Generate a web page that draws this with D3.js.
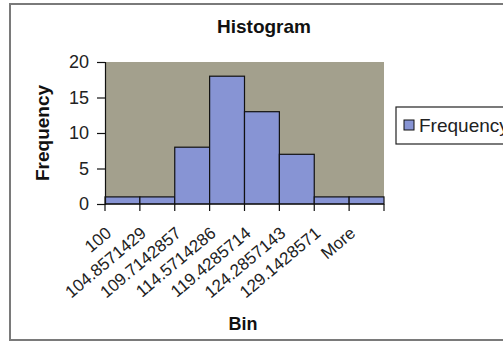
<!DOCTYPE html>
<html>
<head>
<meta charset="utf-8">
<script src="https://cdn.jsdelivr.net/npm/d3@7"></script>
<style>
  body { margin: 0; background: #fff; overflow: hidden; }
  text { font-family: "Liberation Sans", Arial, sans-serif; }
</style>
</head>
<body>
<script>
//Chart data
var bins = ["100", "104.8571429", "109.7142857", "114.5714286", "119.4285714",
            "124.2857143", "129.1428571", "More"];
var frequency = [1, 1, 8, 18, 13, 7, 1, 1];
var yTicks = [0, 5, 10, 15, 20];

var w = 503;
var h = 343;

//Plot area
var plotLeft = 105, plotRight = 384, plotTop = 62, plotBottom = 204;

var svg = d3.select("body")
            .append("svg")
            .attr("width", w)
            .attr("height", h)
            .style("display", "block");

//Outer chart border (right edge runs off the picture)
svg.append("rect")
   .attr("x", 10).attr("y", 4)
   .attr("width", 510).attr("height", 336)
   .attr("fill", "#fff")
   .attr("stroke", "#7a7a7a")
   .attr("stroke-width", 2);

var x = d3.scaleBand()
          .domain(bins)
          .range([plotLeft, plotRight])
          .padding(0);

var y = d3.scaleLinear()
          .domain([0, 20])
          .range([plotBottom, plotTop]);

//Plot background
svg.append("rect")
   .attr("x", plotLeft).attr("y", plotTop)
   .attr("width", plotRight - plotLeft).attr("height", plotBottom - plotTop)
   .attr("fill", "#a3a08d");

//Bars
svg.selectAll("rect.bar")
   .data(frequency)
   .enter()
   .append("rect")
   .attr("class", "bar")
   .attr("x", (d, i) => x(bins[i]))
   .attr("y", (d) => y(d))
   .attr("width", x.bandwidth())
   .attr("height", (d) => y(0) - y(d))
   .attr("fill", "#8794d4")
   .attr("stroke", "#111")
   .attr("stroke-width", 1.2);

//Y axis
var yAxis = svg.append("g")
   .attr("transform", "translate(" + plotLeft + ",0)")
   .call(d3.axisLeft(y).tickValues(yTicks).tickSize(8).tickPadding(8));
yAxis.select(".domain").attr("stroke", "#111").attr("stroke-width", 1.2);
yAxis.selectAll(".tick line").attr("stroke", "#111").attr("stroke-width", 1.2);
yAxis.selectAll("text")
     .attr("font-size", "18px")
     .attr("fill", "#222")
     .style("font-family", "Liberation Sans, Arial, sans-serif");

//X axis: ticks at bin boundaries
var edges = bins.map((b) => x(b)).concat([plotRight]);
svg.append("line")
   .attr("x1", plotLeft).attr("x2", plotRight)
   .attr("y1", plotBottom).attr("y2", plotBottom)
   .attr("stroke", "#111").attr("stroke-width", 1.2);
svg.selectAll("line.xtick")
   .data(edges)
   .enter()
   .append("line")
   .attr("class", "xtick")
   .attr("x1", (d) => d).attr("x2", (d) => d)
   .attr("y1", plotBottom).attr("y2", plotBottom + 7)
   .attr("stroke", "#111").attr("stroke-width", 1.2);

svg.selectAll("text.xlabel")
   .data(bins)
   .enter()
   .append("text")
   .attr("class", "xlabel")
   .attr("transform", (d) => "translate(" + (x(d) + x.bandwidth() / 2 - 10) + "," + (plotBottom + 31) + ") rotate(-40)")
   .attr("text-anchor", "end")
   .attr("font-size", "17px")
   .attr("fill", "#222")
   .text((d) => d);

//Titles
svg.append("text")
   .attr("x", 264).attr("y", 33)
   .attr("text-anchor", "middle")
   .attr("font-size", "19px")
   .attr("font-weight", "bold")
   .attr("fill", "#111")
   .text("Histogram");

svg.append("text")
   .attr("transform", "translate(49,133) rotate(-90)")
   .attr("text-anchor", "middle")
   .attr("font-size", "19px")
   .attr("font-weight", "bold")
   .attr("fill", "#111")
   .text("Frequency");

svg.append("text")
   .attr("x", 243).attr("y", 330)
   .attr("text-anchor", "middle")
   .attr("font-size", "18px")
   .attr("font-weight", "bold")
   .attr("fill", "#111")
   .text("Bin");

//Legend
var legend = svg.append("g").attr("transform", "translate(396,107)");
legend.append("rect")
      .attr("x", 0).attr("y", 0)
      .attr("width", 120).attr("height", 37)
      .attr("fill", "#fff")
      .attr("stroke", "#222")
      .attr("stroke-width", 1.2);
legend.append("rect")
      .attr("x", 8).attr("y", 13)
      .attr("width", 10).attr("height", 10)
      .attr("fill", "#8794d4")
      .attr("stroke", "#111");
legend.append("text")
      .attr("x", 23).attr("y", 25)
      .attr("font-size", "19px")
      .attr("fill", "#222")
      .text("Frequency");
</script>
</body>
</html>
